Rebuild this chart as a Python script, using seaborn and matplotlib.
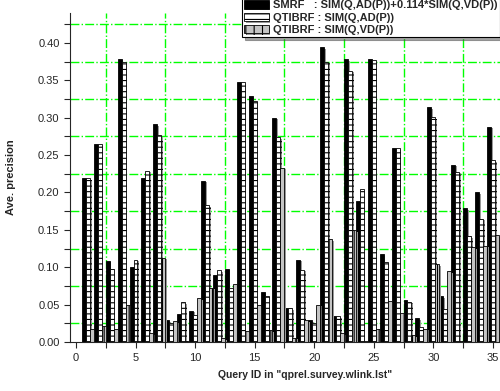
import pandas as pd
import matplotlib
matplotlib.use("Agg")
import matplotlib.pyplot as plt
import matplotlib.patheffects as pe
from matplotlib.ticker import MultipleLocator, FixedLocator, FormatStrFormatter
import seaborn as sns

# ---------- data ----------
queries = list(range(1, 36))

smrf = [0.220, 0.265, 0.109, 0.379, 0.100, 0.220, 0.291, 0.029, 0.037, 0.042,
        0.216, 0.090, 0.098, 0.347, 0.329, 0.067, 0.300, 0.045, 0.110, 0.029,
        0.394, 0.035, 0.378, 0.188, 0.378, 0.118, 0.260, 0.056, 0.032, 0.314,
        0.061, 0.237, 0.179, 0.200, 0.288]
qtibrf_ad = [0.219, 0.265, 0.098, 0.374, 0.110, 0.229, 0.277, 0.026, 0.053, 0.036,
             0.183, 0.096, 0.073, 0.347, 0.322, 0.062, 0.274, 0.045, 0.097, 0.026,
             0.375, 0.035, 0.363, 0.204, 0.377, 0.107, 0.259, 0.054, 0.020, 0.301,
             0.044, 0.228, 0.142, 0.165, 0.243]
qtibrf_vd = [0.017, 0.022, 0.017, 0.050, 0.002, 0.012, 0.113, 0.028, 0.002, 0.059,
             0.073, 0.005, 0.078, 0.015, 0.049, 0.016, 0.233, 0.006, 0.029, 0.050,
             0.138, 0.012, 0.150, 0.002, 0.017, 0.055, 0.039, 0.009, 0.018, 0.104,
             0.095, 0.002, 0.127, 0.129, 0.143]

series_names = ["SMRF   : SIM(Q,AD(P))+0.114*SIM(Q,VD(P))",
                "QTIBRF : SIM(Q,AD(P))",
                "QTIBRF : SIM(Q,VD(P))"]

# ---------- long format ----------
parts = []
for name, vals in zip(series_names, [smrf, qtibrf_ad, qtibrf_vd]):
    parts.append(pd.DataFrame({"query": queries, "value": vals, "series": name}))
df = pd.concat(parts, ignore_index=True)

# ---------- plot ----------
sns.set_style("ticks")
plt.rcParams["font.family"] = ["Liberation Sans", "DejaVu Sans"]
plt.rcParams["hatch.linewidth"] = 0.8

fig = plt.figure(figsize=(5.0, 3.91), dpi=100)
ax = fig.add_axes([0.14, 0.125, 0.86, 0.842])

sns.barplot(data=df, x="query", y="value", hue="series", hue_order=series_names,
            native_scale=True, width=1.0, palette=["black", "white", "#c4c4c4"],
            saturation=1, edgecolor="black", linewidth=0.6, errorbar=None,
            legend=False, ax=ax)

hatches = [None, "---", "||"]
shadow = [pe.SimplePatchShadow(offset=(1.2, -1.2), shadow_rgbFace="0.6", alpha=1.0),
          pe.Normal()]
for cont, h in zip(ax.containers, hatches):
    for p in cont:
        if h:
            p.set_hatch(h)
        p.set_path_effects(shadow)

ax.set_xlim(-0.5, 35.6)
ax.set_ylim(0, 0.44)
ax.xaxis.set_major_locator(MultipleLocator(5))
ax.xaxis.set_minor_locator(MultipleLocator(2.5))
ax.yaxis.set_major_locator(FixedLocator([i * 0.05 for i in range(9)]))
ax.yaxis.set_minor_locator(FixedLocator([0.025 + i * 0.05 for i in range(9)]))
ax.yaxis.set_major_formatter(FormatStrFormatter("%.2f"))

# green dash-dot grid only on the in-between ticks
ax.grid(which="minor", color="#00ff00", linestyle="-.", linewidth=1.0)
ax.grid(which="major", visible=False)
ax.set_axisbelow(True)

ax.tick_params(which="both", direction="out", length=4, width=0.8, labelsize=8)
for s in ["top", "right"]:
    ax.spines[s].set_visible(False)
for s in ["left", "bottom"]:
    ax.spines[s].set_linewidth(0.8)

ax.set_xlabel('Query ID in "qprel.survey.wlink.lst"', fontsize=7.5, fontweight="bold")
ax.set_ylabel("Ave. precision", fontsize=8, fontweight="bold")
ax.xaxis.set_label_coords(0.547, -0.085)
ax.yaxis.set_label_coords(-0.125, 0.5)

leg = ax.legend(ax.containers, series_names, loc="upper right",
                bbox_to_anchor=(1.0, 1.005), bbox_transform=fig.transFigure,
                borderaxespad=0.0, fontsize=8, handlelength=2.2, handleheight=0.8,
                labelspacing=0.2, borderpad=0.2, handletextpad=0.4,
                frameon=True, fancybox=False, shadow=True, framealpha=1)
leg.get_frame().set_edgecolor("black")
leg.get_frame().set_linewidth(0.8)
for t in leg.get_texts():
    t.set_fontweight("bold")

fig.savefig("out.png", dpi=100)
